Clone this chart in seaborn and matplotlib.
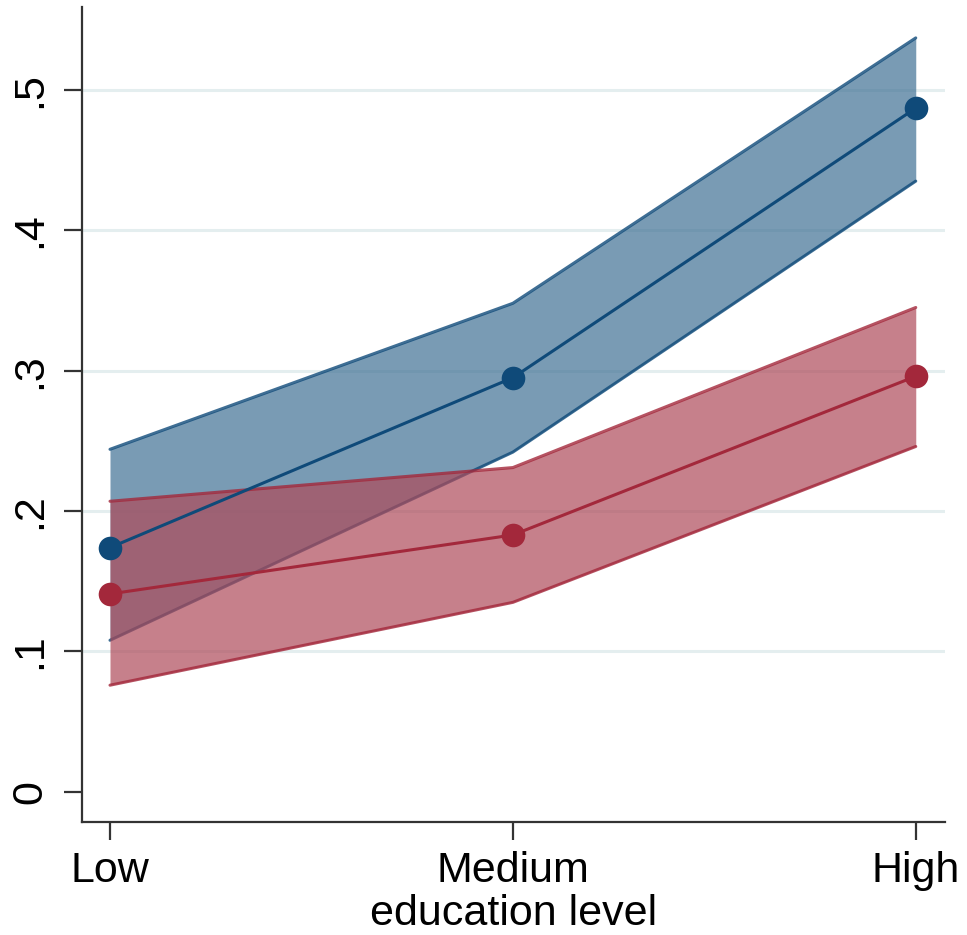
import numpy as np
import pandas as pd
import matplotlib
matplotlib.use("Agg")
import matplotlib.pyplot as plt
import seaborn as sns

# ---- data ----
categories = ["Low", "Medium", "High"]
blue_mean = [0.174, 0.295, 0.487]
blue_lo = [0.108, 0.242, 0.435]
blue_hi = [0.244, 0.348, 0.537]
red_mean = [0.141, 0.183, 0.296]
red_lo = [0.076, 0.135, 0.246]
red_hi = [0.207, 0.231, 0.345]
ytick_vals = [0, 0.1, 0.2, 0.3, 0.4, 0.5]
ytick_labels = ["0", ".1", ".2", ".3", ".4", ".5"]
xlabel = "education level"

BLUE = "#0f4a79"
RED = "#a3283b"
BLUE_FILL = "#417195"
RED_FILL = "#af4b5a"

sns.set_style("white")
plt.rcParams["font.family"] = ["Liberation Sans", "DejaVu Sans"]
plt.rcParams["text.color"] = "black"
plt.rcParams["axes.labelcolor"] = "black"
plt.rcParams["xtick.color"] = "black"
plt.rcParams["ytick.color"] = "black"

fig = plt.figure(figsize=(9.67, 9.35), dpi=100)
ax = fig.add_axes([0.0848, 0.1209, 0.977 - 0.0848, 0.9925 - 0.1209])

x = np.arange(len(categories))

# grid lines (no line at 0)
for v in ytick_vals[1:]:
    ax.axhline(v, color="#e4eeef", lw=2.2, zorder=0)

ax.fill_between(x, blue_lo, blue_hi, color=BLUE_FILL, alpha=0.7, lw=0, zorder=1)
ax.plot(x, blue_lo, color=BLUE, lw=2.2, alpha=0.8, zorder=1.5)
ax.plot(x, blue_hi, color=BLUE, lw=2.2, alpha=0.8, zorder=1.5)
ax.fill_between(x, red_lo, red_hi, color=RED_FILL, alpha=0.7, lw=0, zorder=2)
ax.plot(x, red_lo, color=RED, lw=2.2, alpha=0.8, zorder=2.5)
ax.plot(x, red_hi, color=RED, lw=2.2, alpha=0.8, zorder=2.5)

df = pd.DataFrame({
    "x": np.concatenate([x, x]),
    "y": blue_mean + red_mean,
    "group": ["a"] * 3 + ["b"] * 3,
})
sns.lineplot(data=df, x="x", y="y", hue="group", palette=[BLUE, RED],
             marker="o", markersize=17, markeredgewidth=0, lw=2.2,
             legend=False, ax=ax, zorder=3)

ax.set_xlim(-0.0695, 2.072)
ax.set_ylim(-0.0214, 0.559)
ax.set_xticks(x)
ax.set_xticklabels(categories)
ax.set_yticks(ytick_vals)
ax.set_yticklabels(ytick_labels, rotation=90, va="center")
ax.set_xlabel(xlabel, fontsize=31, labelpad=2, color="black")
ax.set_ylabel("")

ax.tick_params(axis="both", labelsize=31, length=13, width=1.6,
               color="#333333", labelcolor="black", direction="out",
               bottom=True, left=True)
ax.tick_params(axis="x", pad=8)
ax.tick_params(axis="y", pad=10)
for s in ["top", "right"]:
    ax.spines[s].set_visible(False)
for s in ["left", "bottom"]:
    ax.spines[s].set_color("#333333")
    ax.spines[s].set_linewidth(1.6)

fig.savefig("out.png", dpi=100, facecolor="white")
